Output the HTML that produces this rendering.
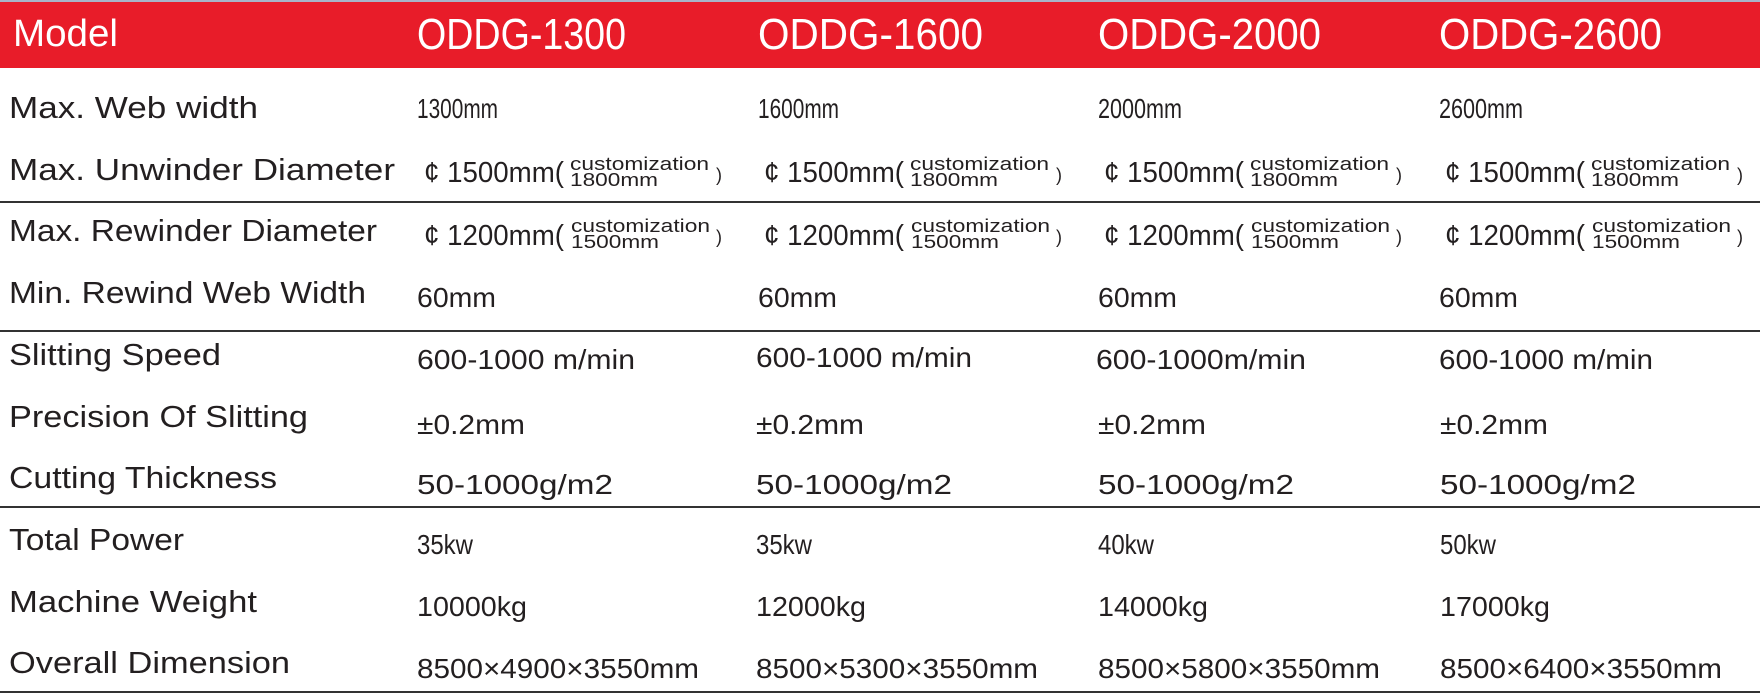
<!DOCTYPE html>
<html><head><meta charset="utf-8"><style>
html,body{margin:0;padding:0;background:#fff;}
svg{display:block;}
text{font-family:"Liberation Sans",sans-serif;fill:#231f20;}
text.w{fill:#fff;}
</style></head><body>
<svg width="1760" height="696" viewBox="0 0 1760 696" xmlns="http://www.w3.org/2000/svg">
<rect x="0" y="0" width="1760" height="2" fill="#a8b4c8"/>
<rect x="0" y="2" width="1760" height="66" fill="#e81c29"/>
<g font-size="38">
<text class="w" x="13" y="46" textLength="105" lengthAdjust="spacingAndGlyphs">Model</text>
<text class="w" x="417" y="49" textLength="209" lengthAdjust="spacingAndGlyphs" font-size="44">ODDG-1300</text>
<text class="w" x="758" y="49" textLength="225" lengthAdjust="spacingAndGlyphs" font-size="44">ODDG-1600</text>
<text class="w" x="1098" y="49" textLength="223" lengthAdjust="spacingAndGlyphs" font-size="44">ODDG-2000</text>
<text class="w" x="1439" y="49" textLength="223" lengthAdjust="spacingAndGlyphs" font-size="44">ODDG-2600</text>
</g>
<g fill="#333">
<rect x="0" y="201" width="1760" height="2"/>
<rect x="0" y="330" width="1760" height="2"/>
<rect x="0" y="506" width="1760" height="2"/>
<rect x="0" y="691" width="1760" height="2"/>
</g>
<g font-size="31">
<text x="9" y="118" textLength="249" lengthAdjust="spacingAndGlyphs">Max.  Web width</text>
<text x="9" y="180" textLength="386" lengthAdjust="spacingAndGlyphs">Max. Unwinder  Diameter</text>
<text x="9" y="241" textLength="368" lengthAdjust="spacingAndGlyphs">Max. Rewinder Diameter</text>
<text x="9" y="303" textLength="357" lengthAdjust="spacingAndGlyphs">Min. Rewind Web Width</text>
<text x="9" y="365" textLength="212" lengthAdjust="spacingAndGlyphs">Slitting Speed</text>
<text x="9" y="427" textLength="299" lengthAdjust="spacingAndGlyphs">Precision Of Slitting</text>
<text x="9" y="488" textLength="268" lengthAdjust="spacingAndGlyphs">Cutting Thickness</text>
<text x="9" y="550" textLength="175" lengthAdjust="spacingAndGlyphs">Total Power</text>
<text x="9" y="612" textLength="248" lengthAdjust="spacingAndGlyphs">Machine Weight</text>
<text x="9" y="673" textLength="281" lengthAdjust="spacingAndGlyphs">Overall Dimension</text>
</g>
<g font-size="28">
<text x="417" y="118" textLength="81" lengthAdjust="spacingAndGlyphs">1300mm</text>
<text x="758" y="118" textLength="81" lengthAdjust="spacingAndGlyphs">1600mm</text>
<text x="1098" y="118" textLength="84" lengthAdjust="spacingAndGlyphs">2000mm</text>
<text x="1439" y="118" textLength="84" lengthAdjust="spacingAndGlyphs">2600mm</text>
<text x="417" y="307" textLength="79" lengthAdjust="spacingAndGlyphs">60mm</text>
<text x="758" y="307" textLength="79" lengthAdjust="spacingAndGlyphs">60mm</text>
<text x="1098" y="307" textLength="79" lengthAdjust="spacingAndGlyphs">60mm</text>
<text x="1439" y="307" textLength="79" lengthAdjust="spacingAndGlyphs">60mm</text>
<text x="417" y="369" textLength="218" lengthAdjust="spacingAndGlyphs">600-1000 m/min</text>
<text x="756" y="367" textLength="216" lengthAdjust="spacingAndGlyphs">600-1000 m/min</text>
<text x="1096" y="369" textLength="210" lengthAdjust="spacingAndGlyphs">600-1000m/min</text>
<text x="1439" y="369" textLength="214" lengthAdjust="spacingAndGlyphs">600-1000 m/min</text>
<text x="417" y="434" textLength="108" lengthAdjust="spacingAndGlyphs">±0.2mm</text>
<text x="756" y="434" textLength="108" lengthAdjust="spacingAndGlyphs">±0.2mm</text>
<text x="1098" y="434" textLength="108" lengthAdjust="spacingAndGlyphs">±0.2mm</text>
<text x="1440" y="434" textLength="108" lengthAdjust="spacingAndGlyphs">±0.2mm</text>
<text x="417" y="494" textLength="196" lengthAdjust="spacingAndGlyphs">50-1000g/m2</text>
<text x="756" y="494" textLength="196" lengthAdjust="spacingAndGlyphs">50-1000g/m2</text>
<text x="1098" y="494" textLength="196" lengthAdjust="spacingAndGlyphs">50-1000g/m2</text>
<text x="1440" y="494" textLength="196" lengthAdjust="spacingAndGlyphs">50-1000g/m2</text>
<text x="417" y="554" textLength="56" lengthAdjust="spacingAndGlyphs">35kw</text>
<text x="756" y="554" textLength="56" lengthAdjust="spacingAndGlyphs">35kw</text>
<text x="1098" y="554" textLength="56" lengthAdjust="spacingAndGlyphs">40kw</text>
<text x="1440" y="554" textLength="56" lengthAdjust="spacingAndGlyphs">50kw</text>
<text x="417" y="616" textLength="110" lengthAdjust="spacingAndGlyphs">10000kg</text>
<text x="756" y="616" textLength="110" lengthAdjust="spacingAndGlyphs">12000kg</text>
<text x="1098" y="616" textLength="110" lengthAdjust="spacingAndGlyphs">14000kg</text>
<text x="1440" y="616" textLength="110" lengthAdjust="spacingAndGlyphs">17000kg</text>
<text x="417" y="678" textLength="282" lengthAdjust="spacingAndGlyphs">8500×4900×3550mm</text>
<text x="756" y="678" textLength="282" lengthAdjust="spacingAndGlyphs">8500×5300×3550mm</text>
<text x="1098" y="678" textLength="282" lengthAdjust="spacingAndGlyphs">8500×5800×3550mm</text>
<text x="1440" y="678" textLength="282" lengthAdjust="spacingAndGlyphs">8500×6400×3550mm</text>
</g>
<g font-size="29">
<text x="424" y="182" textLength="140" lengthAdjust="spacingAndGlyphs">¢ 1500mm(</text>
<text x="764" y="182" textLength="140" lengthAdjust="spacingAndGlyphs">¢ 1500mm(</text>
<text x="1104" y="182" textLength="140" lengthAdjust="spacingAndGlyphs">¢ 1500mm(</text>
<text x="1445" y="182" textLength="140" lengthAdjust="spacingAndGlyphs">¢ 1500mm(</text>
<text x="424" y="245" textLength="140" lengthAdjust="spacingAndGlyphs">¢ 1200mm(</text>
<text x="764" y="245" textLength="140" lengthAdjust="spacingAndGlyphs">¢ 1200mm(</text>
<text x="1104" y="245" textLength="140" lengthAdjust="spacingAndGlyphs">¢ 1200mm(</text>
<text x="1445" y="245" textLength="140" lengthAdjust="spacingAndGlyphs">¢ 1200mm(</text>
</g>
<g font-size="18">
<text x="570" y="170" textLength="139" lengthAdjust="spacingAndGlyphs">customization</text>
<text x="570" y="186" textLength="88" lengthAdjust="spacingAndGlyphs">1800mm</text>
<text x="716" y="181">)</text>
<text x="910" y="170" textLength="139" lengthAdjust="spacingAndGlyphs">customization</text>
<text x="910" y="186" textLength="88" lengthAdjust="spacingAndGlyphs">1800mm</text>
<text x="1056" y="181">)</text>
<text x="1250" y="170" textLength="139" lengthAdjust="spacingAndGlyphs">customization</text>
<text x="1250" y="186" textLength="88" lengthAdjust="spacingAndGlyphs">1800mm</text>
<text x="1396" y="181">)</text>
<text x="1591" y="170" textLength="139" lengthAdjust="spacingAndGlyphs">customization</text>
<text x="1591" y="186" textLength="88" lengthAdjust="spacingAndGlyphs">1800mm</text>
<text x="1737" y="181">)</text>

<text x="571" y="232" textLength="139" lengthAdjust="spacingAndGlyphs">customization</text>
<text x="571" y="248" textLength="88" lengthAdjust="spacingAndGlyphs">1500mm</text>
<text x="716" y="243">)</text>
<text x="911" y="232" textLength="139" lengthAdjust="spacingAndGlyphs">customization</text>
<text x="911" y="248" textLength="88" lengthAdjust="spacingAndGlyphs">1500mm</text>
<text x="1056" y="243">)</text>
<text x="1251" y="232" textLength="139" lengthAdjust="spacingAndGlyphs">customization</text>
<text x="1251" y="248" textLength="88" lengthAdjust="spacingAndGlyphs">1500mm</text>
<text x="1396" y="243">)</text>
<text x="1592" y="232" textLength="139" lengthAdjust="spacingAndGlyphs">customization</text>
<text x="1592" y="248" textLength="88" lengthAdjust="spacingAndGlyphs">1500mm</text>
<text x="1737" y="243">)</text>
</g>
</svg>
</body></html>
